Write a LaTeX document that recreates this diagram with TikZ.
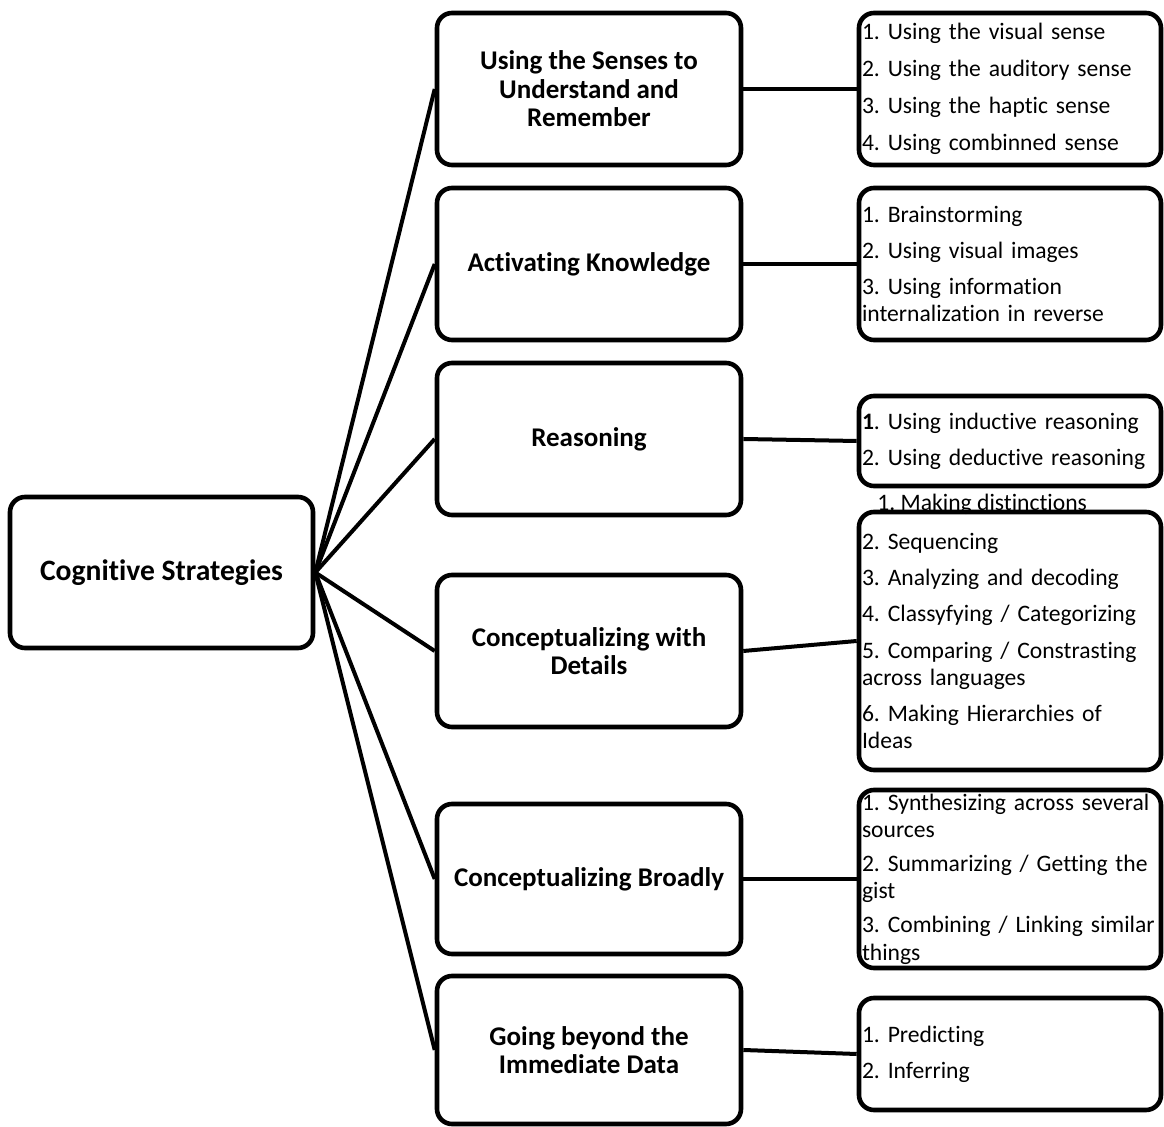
\documentclass[tikz,border=0pt]{standalone}
\usepackage{fontspec}
\setmainfont{Carlito}[Ligatures=NoCommon]
\usetikzlibrary{positioning}

\begin{document}
\frenchspacing\hyphenpenalty=10000
\begin{tikzpicture}[x=0.5pt,y=-0.5pt]
    % Box styles
    \tikzstyle{box} = [rectangle, draw, rounded corners=7.5pt, line width=2.3pt]
    \tikzstyle{strategy} = [box, font=\bfseries\fontsize{13.5}{14.3}\selectfont, align=center, minimum width=152pt, minimum height=76pt]
    \tikzstyle{items} = [box, font=\fontsize{11.8}{13.6}\selectfont, text width=148pt, align=left, inner xsep=1.5pt, inner ysep=0pt]
    \tikzstyle{link} = [line width=2pt]

    \useasboundingbox (0,0) rectangle (1164,1127);

    % Root
    \node[strategy, font=\bfseries\fontsize{14.8}{16}\selectfont, minimum width=151.5pt, minimum height=75.5pt] (cognitive) at (161.5,572.5) {Cognitive Strategies};

    % Strategy boxes
    \node[strategy] (senses) at (589,89) {Using the Senses to\\Understand and\\Remember};
    \node[strategy] (activating) at (589,264) {Activating Knowledge};
    \node[strategy] (reasoning) at (589,439) {Reasoning};
    \node[strategy] (details) at (589,651) {Conceptualizing with\\Details};
    \node[strategy, minimum height=75pt] (broadly) at (589,879) {Conceptualizing Broadly};
    \node[strategy, minimum height=74pt] (beyond) at (589,1050) {Going beyond the\\Immediate Data};

    % Item lists
    \node[items, minimum height=76pt] (senses_list) at (1010,89) {1. Using the visual sense\\[5pt]2. Using the auditory sense\\[5pt]3. Using the haptic sense\\[5pt]4. Using combinned sense};
    \node[items, minimum height=76pt] (activating_list) at (1010,264) {1. Brainstorming\\[4.5pt]2. Using visual images\\[4.5pt]3. Using information\\internalization in reverse};
    \node[items, minimum height=45pt] (reasoning_list) at (1010,441) {\textbf{1}. Using inductive reasoning\\[4.5pt]2. Using deductive reasoning};
    \node[font=\fontsize{11.8}{13.6}\selectfont, inner sep=0pt, anchor=base west] (distinctions) at (877,511) {1. Making distinctions};
    \node[items, minimum height=129pt] (details_list) at (1010,641) {2. Sequencing\\[4.5pt]3. Analyzing and decoding\\[4.5pt]4. Classyfying / Categorizing\\[4.5pt]5. Comparing / Constrasting\\across languages\\[4.5pt]6. Making Hierarchies of\\Ideas};
    \node[items, minimum height=89pt] (broadly_list) at (1010,879) {\mbox{1. Synthesizing across several}\\sources\\[3.5pt]2. Summarizing / Getting the\\gist\\[3.5pt]\mbox{3. Combining / Linking similar}\\things};
    \node[items, minimum height=56pt] (beyond_list) at (1010,1054) {1. Predicting\\[4.5pt]2. Inferring};

    % Connections from root
    \foreach \s in {senses, activating, reasoning, details, broadly, beyond}
        \draw[link] (cognitive.east) -- (\s.west);

    % Connections to item lists
    \draw[link] (senses) -- (senses_list);
    \draw[link] (activating) -- (activating_list);
    \draw[link] (reasoning.east) -- (reasoning_list.west);
    \draw[link] (details.east) -- (details_list.west);
    \draw[link] (broadly) -- (broadly_list);
    \draw[link] (beyond.east) -- (beyond_list.west);
\end{tikzpicture}
\end{document}
